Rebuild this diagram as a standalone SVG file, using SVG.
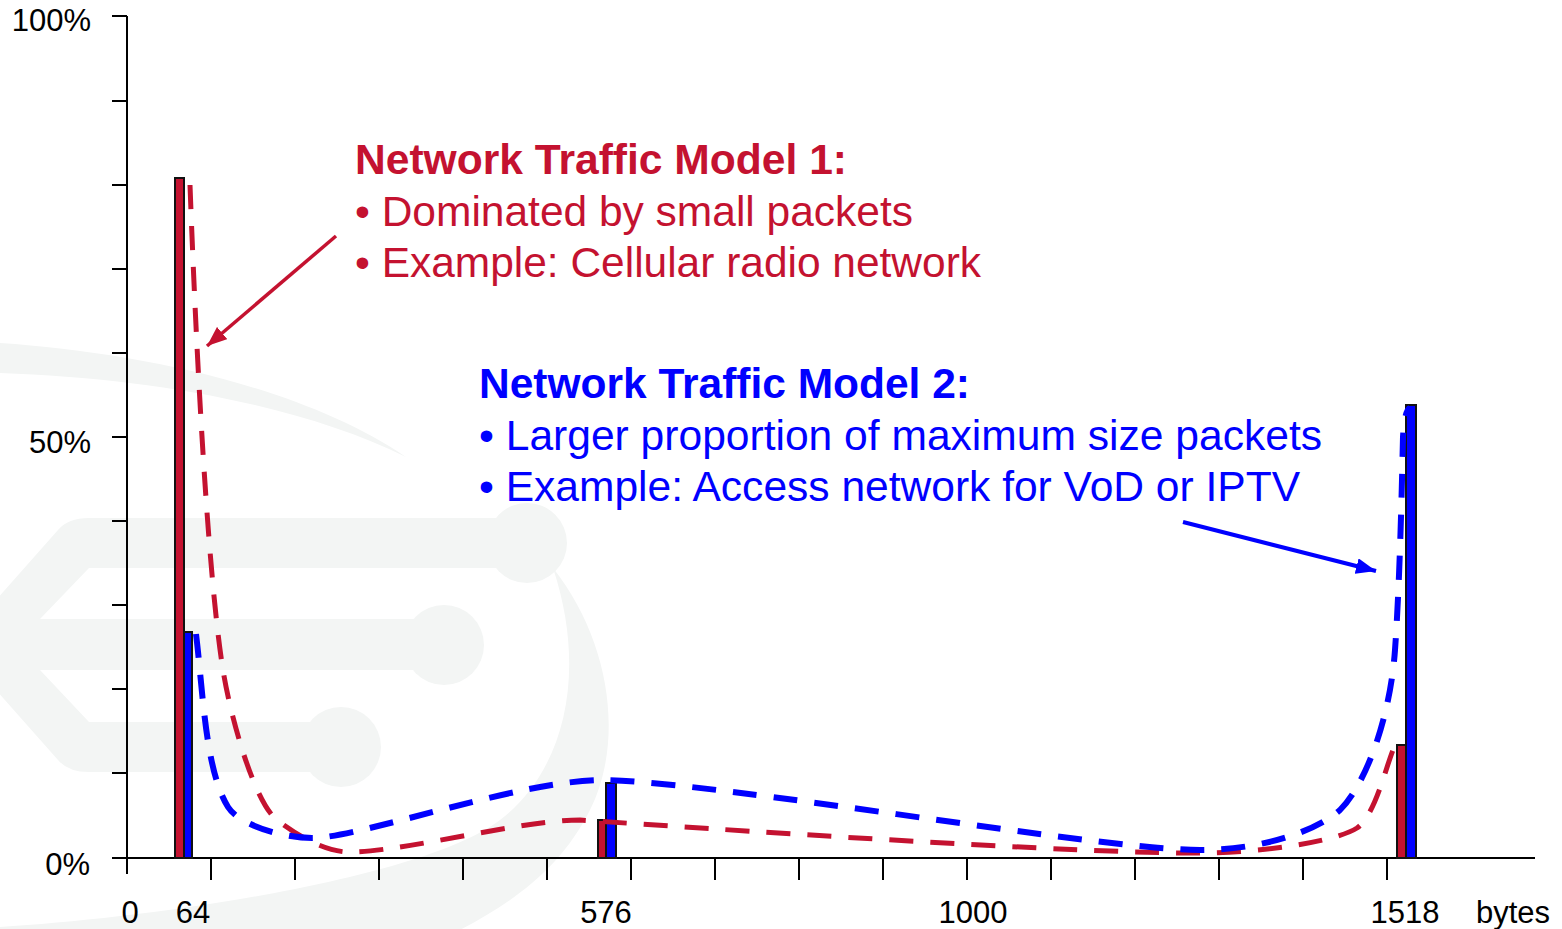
<svg xmlns="http://www.w3.org/2000/svg" width="1562" height="929" viewBox="0 0 1562 929">
  <defs>
    <style>
      .wm { fill: #f3f5f4; }
      .axis { stroke: #000; stroke-width: 2; fill: none; }
      .lbl { font-family: "Liberation Sans", Arial, sans-serif; font-size: 31px; fill: #000; }
      .t1 { font-family: "Liberation Sans", Arial, sans-serif; font-size: 42.5px; fill: #c41230; }
      .t2 { font-family: "Liberation Sans", Arial, sans-serif; font-size: 42.5px; fill: #0000ff; }
      .bold { font-weight: bold; }
      .bar { stroke: #111; stroke-width: 2; }
      .red { fill: #c41230; }
      .blue { fill: #0000ff; }
      .curve-red { fill: none; stroke: #c41230; stroke-width: 5; stroke-dasharray: 24 17; }
      .curve-blue { fill: none; stroke: #0000ff; stroke-width: 6; stroke-dasharray: 24 17; }
    </style>
    <marker id="headRed" markerUnits="userSpaceOnUse" viewBox="0 0 20 16" refX="20" refY="8" markerWidth="20" markerHeight="16" orient="auto">
      <path d="M0,0 L20,8 L0,16 Z" fill="#c41230"/>
    </marker>
    <marker id="headBlue" markerUnits="userSpaceOnUse" viewBox="0 0 20 16" refX="20" refY="8" markerWidth="20" markerHeight="16" orient="auto">
      <path d="M0,0 L20,8 L0,16 Z" fill="#0000ff"/>
    </marker>
  </defs>

  <rect width="1562" height="929" fill="#ffffff"/>

  <!-- faint background emblem -->
  <g id="emblem">
    <path class="wm" d="M0,343 C134,352 300,385 406,457 C300,405 150,378 0,373 Z"/>
    <path class="wm" d="M89,518 L527,518 L527,568 L89,568 L40,619 L444,619 L444,670 L40,670 L89,722 L341,722 L341,772 L89,772 Q68,772 58,760 L-44,645 L58,530 Q68,518 89,518 Z"/>
    <circle class="wm" cx="527" cy="543" r="40"/>
    <circle class="wm" cx="444" cy="645" r="40"/>
    <circle class="wm" cx="341" cy="747" r="40"/>
    <path class="wm" d="M553,568 C610,640 625,740 590,810 C560,870 510,905 450,935 L0,935 L0,927 C150,918 420,880 500,820 C560,775 590,680 553,568 Z"/>
  </g>

  <!-- axes -->
  <g id="axes">
    <path class="axis" d="M127,16 V874 M112,858 H1535"/>
    <path class="axis" d="M112,16 H127 M112,101 H127 M112,185 H127 M112,269 H127 M112,353 H127 M112,437 H127 M112,521 H127 M112,605 H127 M112,689 H127 M112,773 H127"/>
    <path class="axis" d="M211,858 V880 M295,858 V880 M379,858 V880 M463,858 V880 M547,858 V880 M631,858 V880 M715,858 V880 M799,858 V880 M883,858 V880 M967,858 V880 M1051,858 V880 M1135,858 V880 M1219,858 V880 M1303,858 V880 M1387,858 V880"/>
    <text class="lbl" x="91" y="31" text-anchor="end">100%</text>
    <text class="lbl" x="91" y="453" text-anchor="end">50%</text>
    <text class="lbl" x="90" y="875" text-anchor="end">0%</text>
    <text class="lbl" x="130" y="923" text-anchor="middle">0</text>
    <text class="lbl" x="193" y="923" text-anchor="middle">64</text>
    <text class="lbl" x="606" y="923" text-anchor="middle">576</text>
    <text class="lbl" x="973" y="923" text-anchor="middle">1000</text>
    <text class="lbl" x="1405" y="923" text-anchor="middle">1518</text>
    <text class="lbl" x="1476" y="923">bytes</text>
  </g>

  <!-- bars -->
  <g id="bars">
    <rect class="bar red" x="175" y="178" width="9" height="680"/>
    <rect class="bar blue" x="184" y="632" width="8" height="226"/>
    <rect class="bar red" x="598" y="820" width="8" height="38"/>
    <rect class="bar blue" x="606" y="783" width="10" height="75"/>
    <rect class="bar red" x="1397" y="745" width="9" height="113"/>
    <rect class="bar blue" x="1406" y="405" width="10" height="453"/>
  </g>

  <!-- distribution curves and pointers -->
  <g id="connectors">
    <path class="curve-red" d="M190,185 C198,400 210,590 223,670 C231,720 255,803 277,820 C299,837 325,851 347,852 C400,853 520,820 580,820 C700,828 1080,854 1200,853 C1260,853 1335,842 1357,828 C1375,815 1385,770 1393,750"/>
    <path class="curve-blue" d="M196,634 C203,690 205,770 228,807 C240,826 285,838 312,838 C360,838 520,780 603,780 C720,782 1100,850 1200,850 C1260,850 1315,832 1340,810 C1365,785 1390,720 1395,650 C1400,580 1402,480 1403,437 C1404,420 1406,410 1410,408"/>
    <line x1="336" y1="236" x2="207" y2="346" stroke="#c41230" stroke-width="3.5" marker-end="url(#headRed)"/>
    <line x1="1183" y1="522" x2="1376" y2="571" stroke="#0000ff" stroke-width="4" marker-end="url(#headBlue)"/>
  </g>

  <!-- annotations -->
  <g id="model1">
    <text class="t1 bold" x="355" y="174" textLength="492" lengthAdjust="spacingAndGlyphs">Network Traffic Model 1:</text>
    <text class="t1" x="355" y="226" textLength="558" lengthAdjust="spacingAndGlyphs">• Dominated by small packets</text>
    <text class="t1" x="355" y="277" textLength="626" lengthAdjust="spacingAndGlyphs">• Example: Cellular radio network</text>
  </g>
  <g id="model2">
    <text class="t2 bold" x="479" y="398" textLength="491" lengthAdjust="spacingAndGlyphs">Network Traffic Model 2:</text>
    <text class="t2" x="479" y="450" textLength="843" lengthAdjust="spacingAndGlyphs">• Larger proportion of maximum size packets</text>
    <text class="t2" x="479" y="501" textLength="821" lengthAdjust="spacingAndGlyphs">• Example: Access network for VoD or IPTV</text>
  </g>
</svg>
